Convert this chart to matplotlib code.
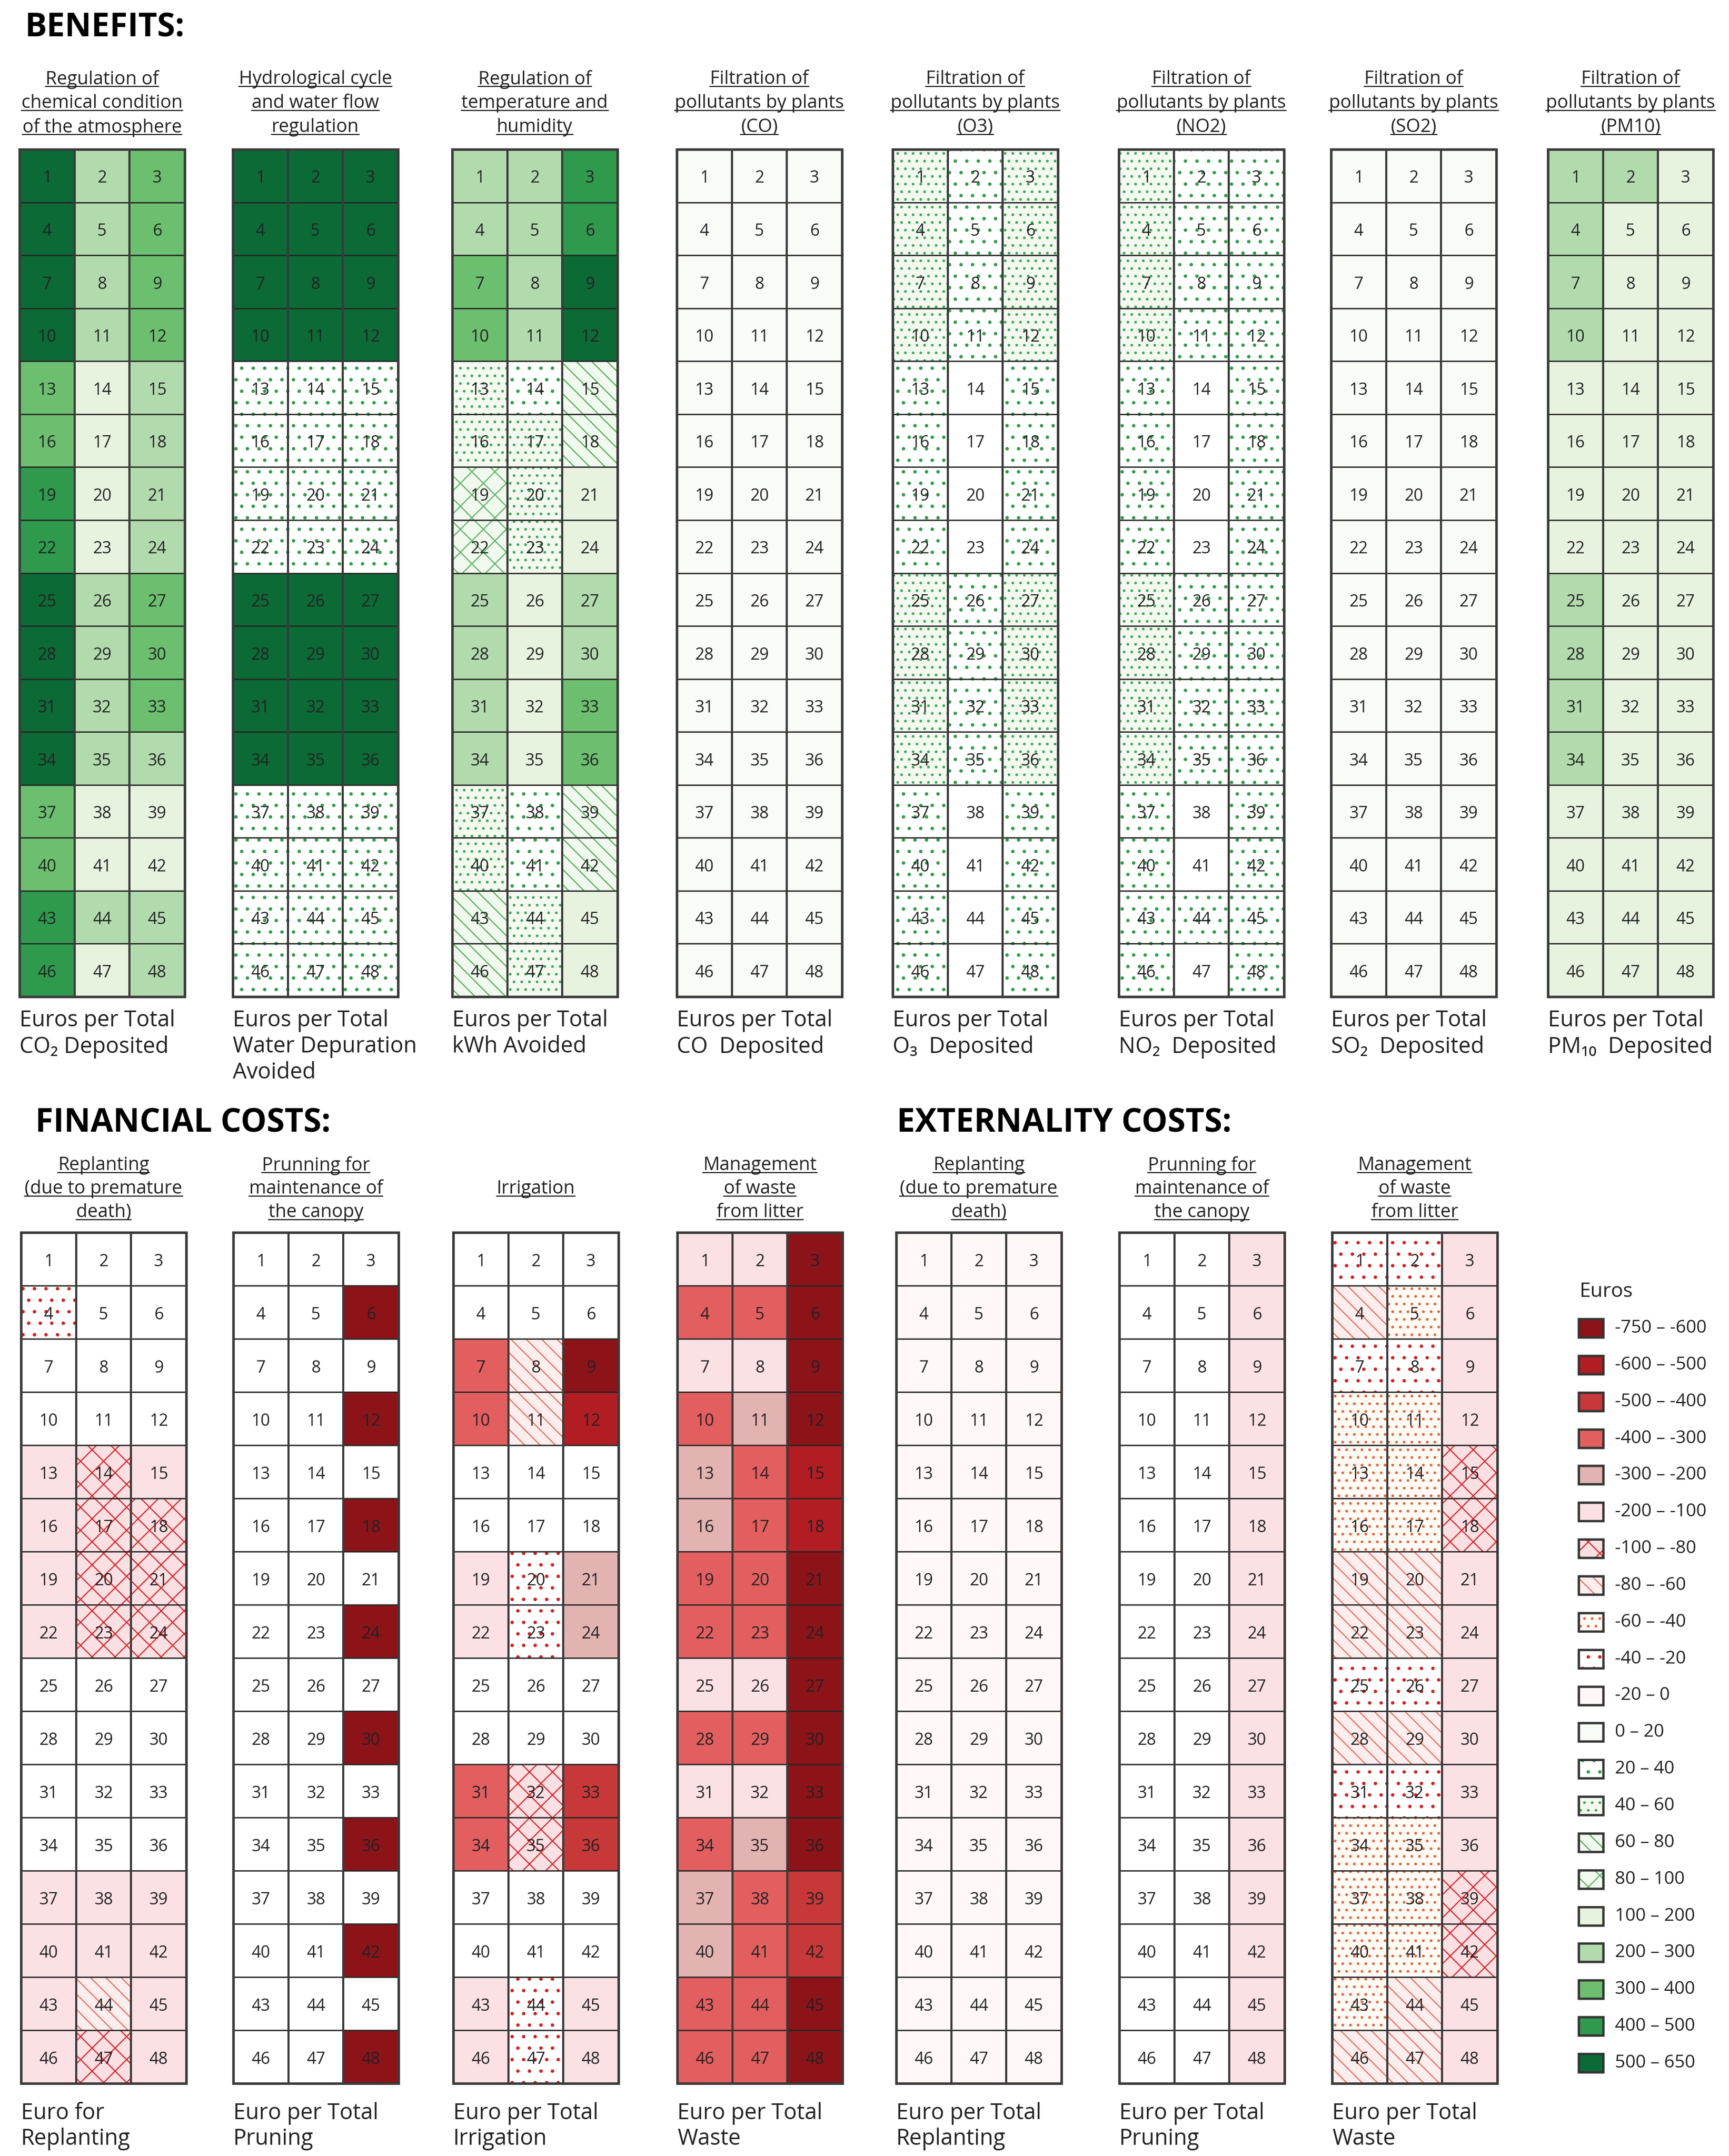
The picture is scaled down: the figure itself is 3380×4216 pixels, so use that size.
import matplotlib
matplotlib.use("Agg")
import matplotlib.pyplot as plt
from matplotlib.lines import Line2D

FIG_W, FIG_H, DPI = 3380, 4216, 270
FONT = ["Open Sans", "DejaVu Sans"]
plt.rcParams["font.family"] = FONT
plt.rcParams["hatch.linewidth"] = 0.6

# legend classes, one letter per class
class_codes = list("ABCDEFGHIJKLMNOPQRSTU")
class_labels = ["-750 – -600", "-600 – -500", "-500 – -400", "-400 – -300", "-300 – -200",
                "-200 – -100", "-100 – -80", "-80 – -60", "-60 – -40", "-40 – -20",
                "-20 – 0", "0 – 20", "20 – 40", "40 – 60", "60 – 80", "80 – 100",
                "100 – 200", "200 – 300", "300 – 400", "400 – 500", "500 – 650"]
class_fills = ["#8c1419", "#b11d22", "#c73838", "#e35f5f", "#e3b3b1", "#fce1e4",
               "#fbe0e3", "#fdeeee", "#fffaf3", "#ffffff", "#fff8f6", "#f9fbf6",
               "#ffffff", "#f3f9ef", "#f1f8ed", "#f1f8ed", "#e7f3df", "#b2dbad",
               "#6cbf6e", "#2f9a4d", "#0c6a36"]
class_hatches = [None, None, None, None, None, None, "xx", "\\\\\\", "...", "..",
                 None, None, "..", "...", "\\\\\\", "xx", None, None, None, None, None]
class_hatch_colors = ["#8c1419", "#b11d22", "#c73838", "#e35f5f", "#e3b3b1", "#fce1e4",
                      "#d8262c", "#e8705f", "#e2603e", "#d62020", "#fff8f6", "#f9fbf6",
                      "#2e9e4a", "#3aa656", "#54b05c", "#5db56a", "#e7f3df", "#b2dbad",
                      "#6cbf6e", "#2f9a4d", "#0c6a36"]

# cell classes per grid, 16 rows x 3 columns ('W' = empty white cell)
co2_cells = ["URS", "URS", "URS", "URS", "SQR", "SQR", "TQR", "TQR",
             "URS", "URS", "URS", "URR", "SQQ", "SQQ", "TRR", "TQR"]
water_cells = ["UUU"] * 4 + ["MMM"] * 4 + ["UUU"] * 4 + ["MMM"] * 4
temp_cells = ["RRT", "RRT", "SRU", "SRU", "NMO", "NNO", "PNQ", "PNQ",
              "RQR", "RQR", "RQS", "RQS", "NMO", "NMO", "ONQ", "ONQ"]
co_cells = ["LLL"] * 16
o3_cells = ["NMN"] * 4 + ["MWM"] * 4 + ["NMN"] * 4 + ["MWM"] * 4
no2_cells = ["NMM"] * 4 + ["MWM"] * 4 + ["NMM"] * 4 + ["MWM", "MWM", "MMM", "MWM"]
so2_cells = ["LLL"] * 16
pm10_cells = ["RRQ", "RQQ", "RQQ", "RQQ"] + ["QQQ"] * 4 + ["RQQ"] * 4 + ["QQQ"] * 4

fin_replant_cells = ["WWW", "JWW", "WWW", "WWW", "FGF", "FGG", "FGG", "FGG",
                     "WWW", "WWW", "WWW", "WWW", "FFF", "FFF", "FHF", "FGF"]
fin_pruning_cells = ["WWW", "WWA"] * 8
fin_irrigation_cells = ["WWW", "WWW", "DHA", "DHB", "WWW", "WWW", "FJE", "FJE",
                        "WWW", "WWW", "DGC", "DGC", "WWW", "WWW", "FJF", "FJF"]
fin_waste_cells = ["FFA", "DDA", "FFA", "DEA", "EDB", "EDB", "DDA", "DDA",
                   "FFA", "DDA", "FFA", "DEA", "EDC", "EDC", "DDA", "DDA"]
ext_replant_cells = ["KKK"] * 16
ext_pruning_cells = ["WWF"] * 16
ext_waste_cells = ["JJF", "HIF", "JJF", "IIF", "IIG", "IIG", "HHF", "HHF",
                   "JJF", "HHF", "JJF", "IIF", "IIG", "IIG", "IHF", "HHF"]

benefit_titles = [["Regulation of", "chemical condition", "of the atmosphere"],
                  ["Hydrological cycle", "and water flow", "regulation"],
                  ["Regulation of", "temperature and", "humidity"],
                  ["Filtration of", "pollutants by plants", "(CO)"],
                  ["Filtration of", "pollutants by plants", "(O3)"],
                  ["Filtration of", "pollutants by plants", "(NO2)"],
                  ["Filtration of", "pollutants by plants", "(SO2)"],
                  ["Filtration of", "pollutants by plants", "(PM10)"]]
benefit_captions = [["Euros per Total", "CO₂ Deposited"],
                    ["Euros per Total", "Water Depuration", "Avoided"],
                    ["Euros per Total", "kWh Avoided"],
                    ["Euros per Total", "CO  Deposited"],
                    ["Euros per Total", "O₃  Deposited"],
                    ["Euros per Total", "NO₂  Deposited"],
                    ["Euros per Total", "SO₂  Deposited"],
                    ["Euros per Total", "PM₁₀  Deposited"]]
benefit_grids = [co2_cells, water_cells, temp_cells, co_cells,
                 o3_cells, no2_cells, so2_cells, pm10_cells]

cost_titles = [["Replanting", "(due to premature", "death)"],
               ["Prunning for", "maintenance of", "the canopy"],
               [None, "Irrigation", None],
               ["Management", "of waste", "from litter"],
               ["Replanting", "(due to premature", "death)"],
               ["Prunning for", "maintenance of", "the canopy"],
               ["Management", "of waste", "from litter"]]
cost_captions = [["Euro for", "Replanting"],
                 ["Euro per Total", "Pruning"],
                 ["Euro per Total", "Irrigation"],
                 ["Euro per Total", "Waste"],
                 ["Euro per Total", "Replanting"],
                 ["Euro per Total", "Pruning"],
                 ["Euro per Total", "Waste"]]
cost_grids = [fin_replant_cells, fin_pruning_cells, fin_irrigation_cells, fin_waste_cells,
              ext_replant_cells, ext_pruning_cells, ext_waste_cells]

# layout in pixels of the final image
top_lefts = [38, 455, 884, 1323, 1745, 2187, 2602, 3026]
bottom_lefts = [41, 456, 886, 1324, 1752, 2188, 2604]
GRID_W = 323

fig = plt.figure(figsize=(FIG_W / DPI, FIG_H / DPI), dpi=DPI)
underlined = []


def fx(px):
    return px / FIG_W


def fy(py):
    return 1 - py / FIG_H


def draw_grid(cells, left, top, bottom):
    ax = fig.add_axes([fx(left), fy(bottom), GRID_W / FIG_W, (bottom - top) / FIG_H])
    ax.set_xlim(0, 3)
    ax.set_ylim(16, 0)
    ax.axis("off")
    style = {c: (class_fills[i], class_hatches[i], class_hatch_colors[i])
             for i, c in enumerate(class_codes)}
    style["W"] = ("#ffffff", None, "#ffffff")
    for code, (fill, hatch, hcol) in style.items():
        xs, ys = [], []
        for r, row in enumerate(cells):
            for c, ch in enumerate(row):
                if ch == code:
                    xs.append(c + 0.5)
                    ys.append(r)
        if xs:
            ax.bar(xs, 1, width=1, bottom=ys, color=fill, edgecolor=hcol,
                   linewidth=0, hatch=hatch)
    ax.hlines(range(1, 16), 0, 3, colors="#262626", linewidth=0.7)
    ax.vlines([1, 2], 0, 16, colors="#3a3a3a", linewidth=1.1)
    ax.plot([0, 3, 3, 0, 0], [0, 0, 16, 16, 0], color="#3a3a3a", linewidth=1.3,
            clip_on=False, solid_joinstyle="miter")
    for r in range(16):
        for c in range(3):
            ax.text(c + 0.5, r + 0.55, str(r * 3 + c + 1), ha="center", va="center",
                    fontsize=8.6, color="#222222")


def draw_title(lines, center_x, ys):
    for line, y in zip(lines, ys):
        if line is None:
            continue
        t = fig.text(fx(center_x), fy(y), line, ha="center", va="center",
                     fontsize=9.6, color="#222222")
        underlined.append(t)


def draw_caption(lines, left, y0, step):
    for i, line in enumerate(lines):
        fig.text(fx(left), fy(y0 + i * step), line, ha="left", va="center",
                 fontsize=11.5, color="#222222")


# headings
fig.text(fx(48), fy(55), "BENEFITS:", fontsize=17, fontweight="bold", va="center")
fig.text(fx(69), fy(2197), "FINANCIAL COSTS:", fontsize=17, fontweight="bold", va="center")
fig.text(fx(1753), fy(2197), "EXTERNALITY COSTS:", fontsize=17, fontweight="bold", va="center")

for cells, left, title, cap in zip(benefit_grids, top_lefts, benefit_titles, benefit_captions):
    draw_grid(cells, left, 292, 1949)
    draw_title(title, left + GRID_W / 2, [155, 202, 249])
    draw_caption(cap, left, 1996, 51)

for cells, left, title, cap in zip(cost_grids, bottom_lefts, cost_titles, cost_captions):
    draw_grid(cells, left, 2410, 4074)
    draw_title(title, left + GRID_W / 2, [2279, 2325, 2371])
    draw_caption(cap, left, 4133, 50)

# legend
leg_ax = fig.add_axes([fx(3080), fy(4070), 300 / FIG_W, (4070 - 2560) / FIG_H])
leg_ax.set_xlim(3080, 3380)
leg_ax.set_ylim(4070, 2560)
leg_ax.axis("off")
fig.text(fx(3087), fy(2526), "Euros", fontsize=10.5, va="center", color="#222222")
for i, label in enumerate(class_labels):
    yc = 2597 + i * 71.85
    leg_ax.bar(3110, 36, width=48, bottom=yc - 18, color=class_fills[i],
               edgecolor=class_hatch_colors[i], linewidth=0, hatch=class_hatches[i])
    leg_ax.bar(3110, 36, width=48, bottom=yc - 18, fill=False,
               edgecolor="#333333", linewidth=1.2)
    leg_ax.text(3157, yc, label, va="center", ha="left", fontsize=9.4, color="#222222")

# underline the grid titles
fig.canvas.draw()
renderer = fig.canvas.get_renderer()
for t in underlined:
    bb = t.get_window_extent(renderer)
    yline = bb.y0 + 0.12 * bb.height
    fig.add_artist(Line2D([bb.x0 / FIG_W, bb.x1 / FIG_W], [yline / FIG_H, yline / FIG_H],
                          transform=fig.transFigure, color="#222222", linewidth=0.6))

fig.savefig("out.png", dpi=DPI)
